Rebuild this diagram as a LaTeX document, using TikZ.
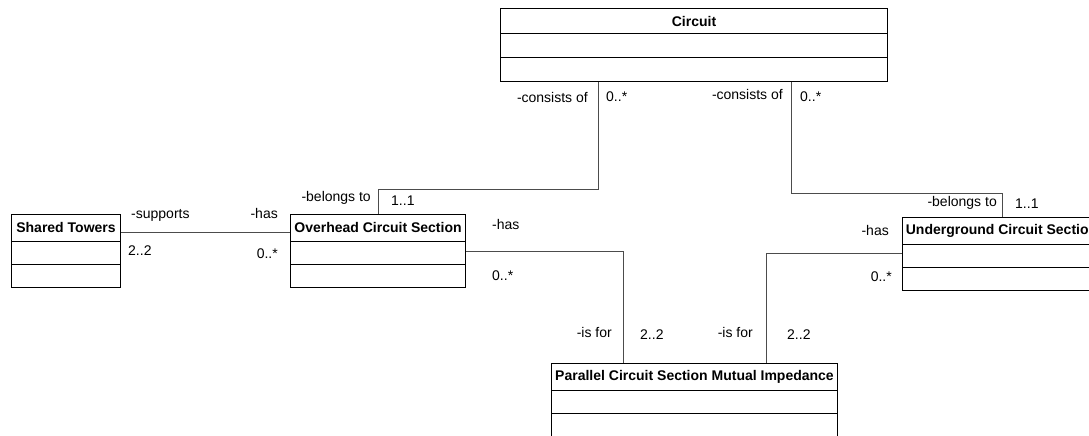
\documentclass[tikz,border=0pt]{standalone}
\usepackage{fontspec}
\setmainfont{Liberation Sans}
\begin{document}
\begin{tikzpicture}[x=1pt,y=-1pt,
  box/.style={draw=black,line width=1pt,rectangle,inner sep=0pt,anchor=north west},
  sep/.style={draw=black,line width=1pt},
  ttl/.style={font=\fontsize{14}{16}\selectfont\bfseries,inner sep=0pt},
  lbl/.style={font=\fontsize{14}{16}\selectfont,inner sep=0pt},
  assoc/.style={draw=black!70,line width=0.9pt}]
\useasboundingbox (0,0) rectangle (1089,436);
\clip (0,0) rectangle (1089,436);
\newcommand\umlclass[8]{%
  \node[box,minimum width=#4pt,minimum height={(#5+#6+#7)*1pt}] (#1) at (#2,#3) {};
  \path (#1.north) ++(0,#5/2) node[ttl] (#1-title) {#8};
  \draw[sep] (#1.north west) ++(0,#5) -- ++(#4,0);
  \draw[sep] (#1.north west) ++(0,#5+#6) -- ++(#4,0);
}
\umlclass{circuit}{500}{8}{387}{26}{24}{23}{Circuit}
\umlclass{shared}{11}{214}{109}{27}{23}{23}{Shared Towers}
\umlclass{overhead}{290}{214}{175}{27}{23}{23}{Overhead Circuit Section}
\umlclass{underground}{902}{217}{198}{27}{23}{23}{Underground Circuit Section}
\umlclass{parallel}{551}{363}{286}{27}{23}{23}{Parallel Circuit Section Mutual Impedance}

% connectors
\draw[assoc] ([xshift=98pt]circuit.south west) -- ++(0,107) -| ([xshift=88pt]overhead.north west);
\draw[assoc] ([xshift=291pt]circuit.south west) -- ++(0,111) -| ([xshift=100pt]underground.north west);
\draw[assoc] ([yshift=-18pt]shared.north east) -- ([yshift=-18pt]overhead.north west);
\draw[assoc] ([yshift=-37pt]overhead.north east) -| ([xshift=72pt]parallel.north west);
\draw[assoc] ([yshift=-36pt]underground.north west) -| ([xshift=215pt]parallel.north west);

% labels
\node[lbl,anchor=east] (l1) at (588,97) {-consists of};
\node[lbl,anchor=west] (l2) at (606,97) {0..*};
\node[lbl,anchor=east] (l3) at (783,94) {-consists of};
\node[lbl,anchor=west] (l4) at (800,97) {0..*};
\node[lbl,anchor=east] (l5) at (371,198) {-belongs to};
\node[lbl,anchor=west] (l6) at (391,201) {1..1};
\node[lbl,anchor=west] (l7) at (131,215) {-supports};
\node[lbl,anchor=east] (l8) at (278,213) {-has};
\node[lbl,anchor=west] (l9) at (128,251) {2..2};
\node[lbl,anchor=east] (l10) at (278,254) {0..*};
\node[lbl,anchor=west] (l11) at (492,224) {-has};
\node[lbl,anchor=west] (l12) at (492,276) {0..*};
\node[lbl,anchor=east] (l13) at (889,230) {-has};
\node[lbl,anchor=east] (l14) at (892,277) {0..*};
\node[lbl,anchor=east] (l15) at (997,203) {-belongs to};
\node[lbl,anchor=west] (l16) at (1015,204) {1..1};
\node[lbl,anchor=east] (l17) at (612,332) {-is for};
\node[lbl,anchor=west] (l18) at (640,335) {2..2};
\node[lbl,anchor=east] (l19) at (753,332) {-is for};
\node[lbl,anchor=west] (l20) at (787,335) {2..2};
\end{tikzpicture}
\end{document}
